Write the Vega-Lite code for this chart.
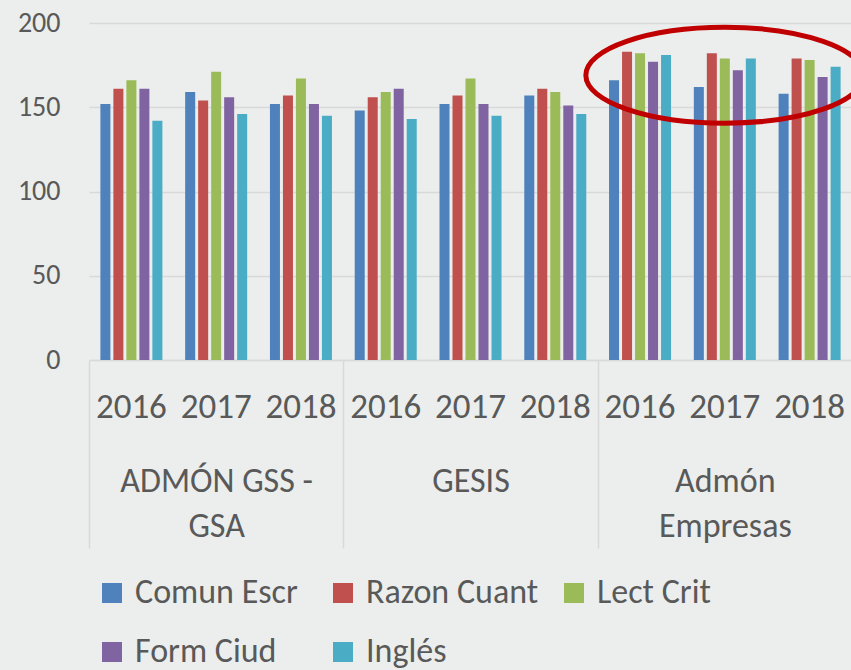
{
  "$schema": "https://vega.github.io/schema/vega-lite/v6.json",
  "autosize": "none",
  "width": 763,
  "height": 337,
  "padding": {"left": 89, "top": 23, "right": 0, "bottom": 310},
  "background": "#EBEEEC",
  "config": {
    "view": {"stroke": null},
    "font": "Carlito, Liberation Sans Narrow, Open Sans, sans-serif",
    "axis": {"labelColor": "#595959", "labelFont": "Carlito, Liberation Sans Narrow, Open Sans, sans-serif"},
    "legend": {"labelFont": "Carlito, Liberation Sans Narrow, Open Sans, sans-serif"}
  },
  "resolve": {"scale": {"x": "independent"}, "axis": {"x": "independent"}},
  "layer": [
    {
      "data": {
        "values": [
          {"program": "ADMÓN GSS - GSA", "year": "2016", "series": "Comun Escr", "value": 152},
          {"program": "ADMÓN GSS - GSA", "year": "2016", "series": "Razon Cuant", "value": 161},
          {"program": "ADMÓN GSS - GSA", "year": "2016", "series": "Lect Crit", "value": 166},
          {"program": "ADMÓN GSS - GSA", "year": "2016", "series": "Form Ciud", "value": 161},
          {"program": "ADMÓN GSS - GSA", "year": "2016", "series": "Inglés", "value": 142},
          {"program": "ADMÓN GSS - GSA", "year": "2017", "series": "Comun Escr", "value": 159},
          {"program": "ADMÓN GSS - GSA", "year": "2017", "series": "Razon Cuant", "value": 154},
          {"program": "ADMÓN GSS - GSA", "year": "2017", "series": "Lect Crit", "value": 171},
          {"program": "ADMÓN GSS - GSA", "year": "2017", "series": "Form Ciud", "value": 156},
          {"program": "ADMÓN GSS - GSA", "year": "2017", "series": "Inglés", "value": 146},
          {"program": "ADMÓN GSS - GSA", "year": "2018", "series": "Comun Escr", "value": 152},
          {"program": "ADMÓN GSS - GSA", "year": "2018", "series": "Razon Cuant", "value": 157},
          {"program": "ADMÓN GSS - GSA", "year": "2018", "series": "Lect Crit", "value": 167},
          {"program": "ADMÓN GSS - GSA", "year": "2018", "series": "Form Ciud", "value": 152},
          {"program": "ADMÓN GSS - GSA", "year": "2018", "series": "Inglés", "value": 145},
          {"program": "GESIS", "year": "2016", "series": "Comun Escr", "value": 148},
          {"program": "GESIS", "year": "2016", "series": "Razon Cuant", "value": 156},
          {"program": "GESIS", "year": "2016", "series": "Lect Crit", "value": 159},
          {"program": "GESIS", "year": "2016", "series": "Form Ciud", "value": 161},
          {"program": "GESIS", "year": "2016", "series": "Inglés", "value": 143},
          {"program": "GESIS", "year": "2017", "series": "Comun Escr", "value": 152},
          {"program": "GESIS", "year": "2017", "series": "Razon Cuant", "value": 157},
          {"program": "GESIS", "year": "2017", "series": "Lect Crit", "value": 167},
          {"program": "GESIS", "year": "2017", "series": "Form Ciud", "value": 152},
          {"program": "GESIS", "year": "2017", "series": "Inglés", "value": 145},
          {"program": "GESIS", "year": "2018", "series": "Comun Escr", "value": 157},
          {"program": "GESIS", "year": "2018", "series": "Razon Cuant", "value": 161},
          {"program": "GESIS", "year": "2018", "series": "Lect Crit", "value": 159},
          {"program": "GESIS", "year": "2018", "series": "Form Ciud", "value": 151},
          {"program": "GESIS", "year": "2018", "series": "Inglés", "value": 146},
          {"program": "Admón Empresas", "year": "2016", "series": "Comun Escr", "value": 166},
          {"program": "Admón Empresas", "year": "2016", "series": "Razon Cuant", "value": 183},
          {"program": "Admón Empresas", "year": "2016", "series": "Lect Crit", "value": 182},
          {"program": "Admón Empresas", "year": "2016", "series": "Form Ciud", "value": 177},
          {"program": "Admón Empresas", "year": "2016", "series": "Inglés", "value": 181},
          {"program": "Admón Empresas", "year": "2017", "series": "Comun Escr", "value": 162},
          {"program": "Admón Empresas", "year": "2017", "series": "Razon Cuant", "value": 182},
          {"program": "Admón Empresas", "year": "2017", "series": "Lect Crit", "value": 179},
          {"program": "Admón Empresas", "year": "2017", "series": "Form Ciud", "value": 172},
          {"program": "Admón Empresas", "year": "2017", "series": "Inglés", "value": 179},
          {"program": "Admón Empresas", "year": "2018", "series": "Comun Escr", "value": 158},
          {"program": "Admón Empresas", "year": "2018", "series": "Razon Cuant", "value": 179},
          {"program": "Admón Empresas", "year": "2018", "series": "Lect Crit", "value": 178},
          {"program": "Admón Empresas", "year": "2018", "series": "Form Ciud", "value": 168},
          {"program": "Admón Empresas", "year": "2018", "series": "Inglés", "value": 174}
        ]
      },
      "transform": [{"calculate": "datum.program + '|' + datum.year", "as": "key"}],
      "mark": {"type": "bar"},
      "encoding": {
        "x": {
          "field": "key",
          "type": "nominal",
          "sort": null,
          "scale": {"paddingInner": 0, "paddingOuter": 0},
          "axis": {
            "title": null,
            "labelExpr": "split(datum.value, '|')[1]",
            "labelAngle": 0,
            "labelFontSize": 35,
            "labelPadding": 29,
            "ticks": false,
            "grid": false,
            "domainColor": "#D9D9D9",
            "domainWidth": 1.5
          }
        },
        "xOffset": {
          "field": "series",
          "type": "nominal",
          "sort": ["Comun Escr", "Razon Cuant", "Lect Crit", "Form Ciud", "Inglés"],
          "scale": {"paddingInner": 0.23, "paddingOuter": 0.876}
        },
        "y": {
          "field": "value",
          "type": "quantitative",
          "scale": {"domain": [0, 200], "nice": false},
          "axis": {
            "title": null,
            "values": [0, 50, 100, 150, 200],
            "labelFontSize": 28,
            "labelPadding": 29,
            "ticks": false,
            "domain": false,
            "gridColor": "#D9D9D9",
            "gridWidth": 1.5
          }
        },
        "color": {
          "field": "series",
          "type": "nominal",
          "sort": ["Comun Escr", "Razon Cuant", "Lect Crit", "Form Ciud", "Inglés"],
          "scale": {
            "domain": ["Comun Escr", "Razon Cuant", "Lect Crit", "Form Ciud", "Inglés"],
            "range": ["#4F81BD", "#C0504D", "#9BBB59", "#8064A2", "#4BACC6"]
          },
          "legend": {
            "title": null,
            "orient": "none",
            "direction": "horizontal",
            "legendX": 6,
            "legendY": 553,
            "columns": 3,
            "gridAlign": "all",
            "columnPadding": 18,
            "rowPadding": 25,
            "symbolType": "square",
            "symbolSize": 400,
            "symbolStrokeWidth": 0,
            "labelFontSize": 34,
            "labelOffset": 6,
            "labelColor": "#595959",
            "labelLimit": 400
          }
        }
      }
    },
    {
      "data": {"values": [{"program": "Admón Empresas", "highlight": 169}]},
      "mark": {
        "type": "point",
        "shape": "M -1 0 C -1 -0.1905 -0.5523 -0.345 0 -0.345 C 0.5523 -0.345 1 -0.1905 1 0 C 1 0.1905 0.5523 0.345 0 0.345 C -0.5523 0.345 -1 0.1905 -1 0 Z",
        "size": 77284,
        "filled": false,
        "stroke": "#C00000",
        "strokeWidth": 5,
        "opacity": 1,
        "clip": false
      },
      "encoding": {
        "x": {
          "field": "program",
          "type": "nominal",
          "scale": {"domain": ["ADMÓN GSS - GSA", "GESIS", "Admón Empresas"], "paddingInner": 0, "paddingOuter": 0},
          "axis": {
            "orient": "bottom",
            "title": null,
            "labelAngle": 0,
            "labelFontSize": 34,
            "labelLineHeight": 45,
            "labelLimit": 400,
            "labelExpr": "datum.value == 'ADMÓN GSS - GSA' ? ['ADMÓN GSS -', 'GSA'] : datum.value == 'Admón Empresas' ? ['Admón', 'Empresas'] : datum.value",
            "labelPadding": -84,
            "labelBaseline": "top",
            "tickBand": "extent",
            "tickSize": 188,
            "tickColor": "#D9D9D9",
            "tickWidth": 1.5,
            "domain": false,
            "grid": false
          }
        },
        "y": {"field": "highlight", "type": "quantitative"}
      }
    }
  ]
}
